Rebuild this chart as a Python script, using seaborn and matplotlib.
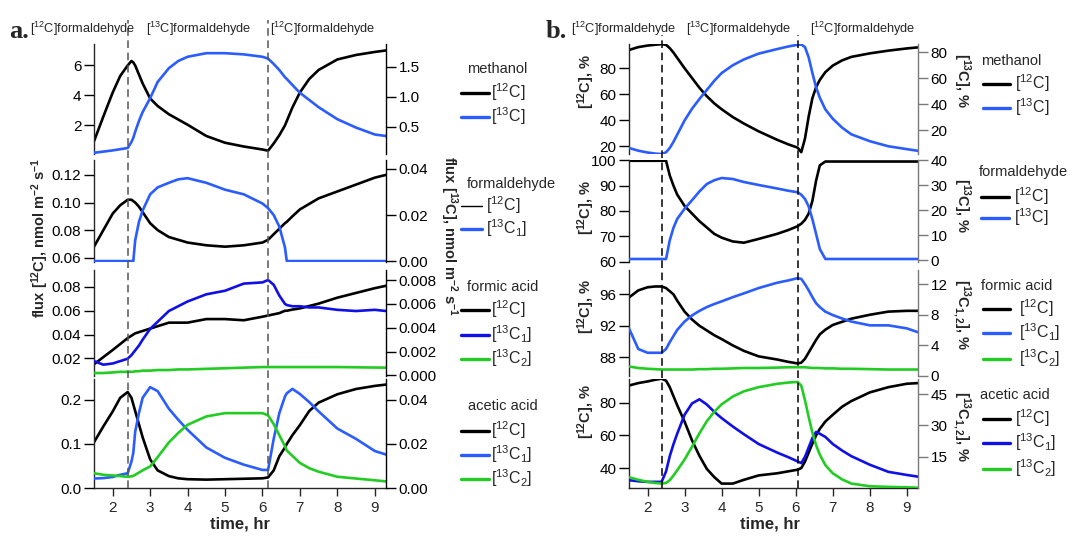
import matplotlib.pyplot as plt
import matplotlib.lines as mlines
import seaborn as sns

sns.set_theme(style="ticks")
plt.rcParams['font.family'] = ['Liberation Sans', 'DejaVu Sans']
plt.rcParams['mathtext.fontset'] = 'custom'
plt.rcParams['mathtext.rm'] = 'Liberation Sans'
plt.rcParams['mathtext.it'] = 'Liberation Sans:italic'
plt.rcParams['mathtext.bf'] = 'Liberation Sans:bold'
plt.rcParams['mathtext.default'] = 'regular'

# ---------------- data ----------------
# panel a: fluxes
t_a = [1.5, 1.75, 2.0, 2.2, 2.4, 2.5, 2.55, 2.6, 2.7, 2.8,
       3.0, 3.2, 3.5, 3.75, 4.0, 4.5, 5.0, 5.5, 6.0, 6.15,
       6.3, 6.45, 6.6, 6.65, 6.8, 7.0, 7.25, 7.5, 8.0, 8.5,
       9.0, 9.3]

meoh_a_12c = [0.95, 2.6, 4.2, 5.3, 6.0, 6.3, 6.2, 6.0, 5.4, 4.8,
              3.8, 3.3, 2.75, 2.4, 2.05, 1.3, 0.85, 0.6, 0.4, 0.32,
              0.8, 1.35, 2.0, 2.3, 3.2, 4.2, 5.1, 5.7, 6.4, 6.7,
              6.9, 7.0]
meoh_a_13c = [0.07, 0.09, 0.11, 0.13, 0.15, 0.25, 0.32, 0.42, 0.6, 0.75,
              0.98, 1.25, 1.48, 1.6, 1.67, 1.73, 1.73, 1.71, 1.67, 1.64,
              1.55, 1.45, 1.33, 1.3, 1.2, 1.07, 0.95, 0.83, 0.63, 0.49,
              0.375, 0.35]

hcho_a_12c = [0.068, 0.080, 0.092, 0.098, 0.102, 0.102, 0.101, 0.100, 0.097, 0.093,
              0.085, 0.080, 0.075, 0.073, 0.071, 0.069, 0.068, 0.069, 0.071, 0.073,
              0.077, 0.081, 0.085, 0.086, 0.090, 0.095, 0.099, 0.103, 0.108, 0.113,
              0.118, 0.120]
hcho_a_13c = [0.0, 0.0, 0.0, 0.0, 0.0, 0.0, 0.0, 0.009, 0.017, 0.022,
              0.029, 0.032, 0.034, 0.0355, 0.036, 0.034, 0.031, 0.029, 0.025, 0.023,
              0.020, 0.015, 0.006, 0.0, 0.0, 0.0, 0.0, 0.0, 0.0, 0.0,
              0.0, 0.0]

fa_a_12c = [0.015, 0.021, 0.027, 0.032, 0.037, 0.039, 0.040, 0.041, 0.042, 0.043,
            0.045, 0.047, 0.050, 0.050, 0.050, 0.053, 0.053, 0.052, 0.055, 0.056,
            0.057, 0.058, 0.060, 0.060, 0.061, 0.062, 0.064, 0.066, 0.071, 0.075,
            0.079, 0.081]
fa_a_13c1 = [0.0012, 0.0009, 0.0010, 0.0012, 0.0014, 0.0017, 0.0019, 0.0021, 0.0025, 0.0030,
             0.0039, 0.0045, 0.0054, 0.0058, 0.0062, 0.0068, 0.0071, 0.0077, 0.0078, 0.0080,
             0.0076, 0.0067, 0.0060, 0.0059, 0.0058, 0.0058, 0.0057, 0.0057, 0.0055, 0.0054,
             0.0055, 0.0054]
fa_a_13c2 = [0.0002, 0.0002, 0.00025, 0.0003, 0.0003, 0.0003, 0.0003, 0.00035, 0.00035, 0.0004,
             0.0004, 0.00045, 0.00045, 0.0005, 0.0005, 0.00055, 0.0006, 0.00065, 0.0007, 0.0007,
             0.0007, 0.0007, 0.0007, 0.0007, 0.0007, 0.0007, 0.0007, 0.0007, 0.0007, 0.00068,
             0.00066, 0.00065]

aa_a_12c = [0.104, 0.14, 0.174, 0.205, 0.218, 0.205, 0.19, 0.175, 0.145, 0.115,
            0.065, 0.04, 0.027, 0.022, 0.02, 0.019, 0.02, 0.021, 0.022, 0.024,
            0.04, 0.072, 0.092, 0.1, 0.12, 0.143, 0.175, 0.194, 0.213, 0.225,
            0.232, 0.235]
aa_a_13c1 = [0.0043, 0.0045, 0.005, 0.006, 0.0067, 0.012, 0.016, 0.0255, 0.034, 0.041,
             0.0458, 0.044, 0.036, 0.031, 0.0264, 0.0184, 0.0137, 0.0106, 0.0082, 0.0082,
             0.0223, 0.034, 0.0415, 0.043, 0.045, 0.0427, 0.039, 0.0348, 0.027, 0.0223,
             0.0168, 0.0152]
aa_a_13c2 = [0.0067, 0.006, 0.0057, 0.0054, 0.0051, 0.0053, 0.0055, 0.006, 0.007, 0.008,
             0.0098, 0.014, 0.0207, 0.025, 0.0287, 0.0325, 0.034, 0.034, 0.034, 0.033,
             0.029, 0.024, 0.019, 0.017, 0.0146, 0.0114, 0.009, 0.0074, 0.0051, 0.0043,
             0.0035, 0.003]

# panel b: isotope fractions, %
t_b = [1.5, 1.75, 2.0, 2.2, 2.38, 2.5, 2.6, 2.7, 2.8, 3.0,
       3.2, 3.4, 3.6, 3.8, 4.0, 4.3, 4.6, 5.0, 5.5, 5.8,
       6.05, 6.15, 6.25, 6.35, 6.45, 6.55, 6.65, 6.8, 7.0, 7.25,
       7.5, 8.0, 8.5, 9.0, 9.3]

meoh_b_12c = [94, 96.2, 97.4, 98, 98.5, 98, 95.4, 92, 88, 80,
              72.5, 65, 58.5, 53, 48.5, 42.5, 37.5, 31.5, 25, 21.5,
              19, 15.5, 26, 43, 57, 65.5, 71, 77, 82, 86,
              88.7, 91.4, 93.5, 95.2, 96]
meoh_b_13c = [6.3, 4.2, 2.8, 2.0, 1.6, 3.0, 6.3, 11, 16.5, 27.5,
              36.5, 44, 51, 58, 64, 70, 74.5, 79, 82.5, 84.5,
              85.8, 86.0, 84, 76, 64, 53, 45, 36, 28.8, 22,
              16.8, 11.5, 7.6, 5.4, 4.1]

hcho_b_12c = [99.8, 99.8, 99.8, 99.8, 99.8, 99.8, 94, 90, 86.5, 82,
              79, 76, 73.5, 71, 69.5, 68, 67.5, 69, 71, 72.5,
              74, 75, 76.5, 79, 84, 92, 98, 99.5, 99.5, 99.5,
              99.5, 99.5, 99.5, 99.5, 99.5]
hcho_b_13c = [0.5, 0.5, 0.5, 0.5, 0.5, 0.5, 8, 13, 16.5, 20.6,
              24, 27.5, 30.5, 32, 32.9, 32.5, 31.3, 30.1, 28.7, 27.8,
              27.2, 26.2, 24.5, 21.5, 16.4, 10.5, 4.5, 0.5, 0.5, 0.5,
              0.5, 0.5, 0.5, 0.5, 0.5]

fa_b_12c = [95.6, 96.5, 96.9, 97.0, 97.0, 96.8, 96.4, 96.0, 95.2, 93.8,
            92.8, 92.0, 91.4, 90.8, 90.3, 89.5, 88.8, 88.1, 87.7, 87.4,
            87.2, 87.3, 87.8, 88.6, 89.4, 90.2, 90.9, 91.5, 92.1, 92.5,
            92.9, 93.4, 93.8, 93.9, 93.9]
fa_b_13c1 = [6.2, 3.5, 3.0, 3.0, 3.0, 3.5, 4.4, 5.2, 6.0, 7.1,
             7.9, 8.5, 9.0, 9.4, 9.75, 10.3, 10.8, 11.5, 12.2, 12.5,
             12.8, 12.7, 12.0, 11.2, 10.3, 9.5, 9.0, 8.4, 7.95, 7.5,
             7.1, 6.6, 6.6, 6.2, 5.7]
fa_b_13c2 = [1.2, 1.0, 0.9, 0.85, 0.8, 0.8, 0.8, 0.8, 0.8, 0.8,
             0.8, 0.85, 0.85, 0.9, 0.9, 0.95, 1.0, 1.0, 1.05, 1.1,
             1.1, 1.1, 1.1, 1.05, 1.0, 1.0, 1.0, 0.95, 0.95, 0.9,
             0.9, 0.85, 0.8, 0.8, 0.8]

aa_b_12c = [90.5, 92, 93, 94, 94.7, 93.5, 89.5, 84, 78.5, 68.4,
            57, 47.5, 39.5, 34.5, 30.5, 30.5, 32.8, 35.5, 36.8, 38,
            39, 40, 44, 49.5, 55, 60, 64, 68.5, 72.6, 77.5,
            81, 86.3, 89.5, 91.6, 92]
aa_b_13c1 = [3.8, 3.3, 3.0, 3.0, 3.0, 8, 15.3, 21, 26, 35.1,
             40.5, 42.5, 40, 36.5, 33.5, 29.5, 25.8, 21.1, 17, 14.8,
             12.8, 12, 15, 19.5, 24, 26.9, 26, 24.5, 21.1, 18,
             15.3, 11.2, 7.8, 6.3, 5.5]
aa_b_13c2 = [5.2, 4.0, 3.0, 2.5, 2.2, 2.5, 3.8, 6, 8.5, 13.7,
             19.8, 26.2, 32, 36.5, 40.1, 43.8, 46.3, 48.3, 49.9, 50.5,
             50.8, 49, 42, 34, 26.5, 20.5, 16, 11, 7.1, 4.2,
             2.2, 0.9, 0.6, 0.4, 0.2]

# times of the label switches (dashed lines)
switch_a = [2.42, 6.15]
switch_b = [2.38, 6.07]
xticks = [2, 3, 4, 5, 6, 7, 8, 9]

# ---------------- styling / layout ----------------
BLACK = '#000000'
BLUE = '#2a5cff'
DBLUE = '#1010e6'
GREEN = '#22cc22'
LW = 1.9
TICK_FS = 11
LEG_FS = 10.5

W, H = 1074, 536
fig = plt.figure(figsize=(W / 100, H / 100), dpi=100)

COL_A = (94, 386)
COL_B = (629, 918)
ROWS = [(44, 154), (160, 262), (270, 376), (379, 488)]


def box(x0, x1, y0, y1):
    return [x0 / W, 1 - y1 / H, (x1 - x0) / W, (y1 - y0) / H]


def panel(col, row, t, left, right, ylim_l, ylim_r, ticks_l, ticks_r,
          fmt_l, fmt_r, rcolor):
    x0, x1 = col
    y0, y1 = ROWS[row]
    ax = fig.add_axes(box(x0, x1, y0, y1))
    axr = ax.twinx()
    for vals, c in left:
        sns.lineplot(x=t, y=vals, ax=ax, color=c, lw=LW, estimator=None,
                     sort=False, legend=False)
    for vals, c in right:
        sns.lineplot(x=t, y=vals, ax=axr, color=c, lw=LW, estimator=None,
                     sort=False, legend=False)
    for a in (ax, axr):
        a.set_xlim(1.5, 9.3)
        a.set_xlabel('')
        a.set_ylabel('')
        a.patch.set_visible(False)
        for s in a.spines.values():
            s.set_visible(False)
            s.set_linewidth(1.0)
    ax.set_ylim(*ylim_l)
    axr.set_ylim(*ylim_r)
    ax.set_yticks(ticks_l)
    ax.set_yticklabels([fmt_l % v for v in ticks_l])
    axr.set_yticks(ticks_r)
    axr.set_yticklabels([fmt_r % v for v in ticks_r])
    ax.spines['left'].set_visible(True)
    axr.spines['right'].set_visible(True)
    axr.spines['right'].set_color(rcolor)
    ax.tick_params(axis='y', direction='out', length=7, width=1,
                   labelsize=TICK_FS, pad=2, colors=BLACK)
    axr.tick_params(axis='y', direction='out', length=7, width=1,
                    labelsize=TICK_FS, pad=2, color=rcolor, labelcolor=BLACK)
    axr.tick_params(axis='x', bottom=False, labelbottom=False)
    if row == 3:
        ax.spines['bottom'].set_visible(True)
        ax.set_xticks(xticks)
        ax.set_xticklabels([str(v) for v in xticks])
        ax.tick_params(axis='x', direction='out', length=5.5, width=1,
                       labelsize=TICK_FS, pad=4)
    else:
        ax.tick_params(axis='x', bottom=False, labelbottom=False)
    return ax


# ---- panel a ----
panel(COL_A, 0, t_a, [(meoh_a_12c, BLACK)], [(meoh_a_13c, BLUE)],
      (0.1, 7.43), (0.05, 1.883), [2, 4, 6], [0.5, 1.0, 1.5], '%d', '%.1f', BLACK)
panel(COL_A, 1, t_a, [(hcho_a_12c, BLACK)], [(hcho_a_13c, BLUE)],
      (0.0569, 0.1308), (-0.0004, 0.0439), [0.06, 0.08, 0.10, 0.12],
      [0.0, 0.02, 0.04], '%.2f', '%.2f', BLACK)
panel(COL_A, 2, t_a, [(fa_a_12c, BLACK)], [(fa_a_13c1, DBLUE), (fa_a_13c2, GREEN)],
      (0.0051, 0.0943), (-0.00005, 0.00884), [0.02, 0.04, 0.06, 0.08],
      [0.0, 0.002, 0.004, 0.006, 0.008], '%.2f', '%.3f', BLACK)
panel(COL_A, 3, t_a, [(aa_a_12c, BLACK)], [(aa_a_13c1, BLUE), (aa_a_13c2, GREEN)],
      (0.0, 0.2477), (0.0, 0.0495), [0.0, 0.1, 0.2], [0.0, 0.02, 0.04],
      '%.1f', '%.2f', BLACK)

# ---- panel b ----
GREY = '#7a7a7a'
panel(COL_B, 0, t_b, [(meoh_b_12c, BLACK)], [(meoh_b_13c, BLUE)],
      (14.1, 98.6), (1.65, 86.4), [20, 40, 60, 80], [20, 40, 60, 80], '%d', '%d', GREY)
panel(COL_B, 1, t_b, [(hcho_b_12c, BLACK)], [(hcho_b_13c, BLUE)],
      (59.9, 100.1), (-0.7, 40.1), [60, 70, 80, 90, 100], [0, 10, 20, 30, 40],
      '%d', '%d', GREY)
panel(COL_B, 2, t_b, [(fa_b_12c, BLACK)], [(fa_b_13c1, BLUE), (fa_b_13c2, GREEN)],
      (85.6, 99.1), (-0.05, 13.87), [88, 92, 96], [0, 4, 8, 12], '%d', '%d', GREY)
panel(COL_B, 3, t_b, [(aa_b_12c, BLACK)], [(aa_b_13c1, DBLUE), (aa_b_13c2, GREEN)],
      (27.8, 94.5), (0.07, 52.2), [40, 60, 80], [15, 30, 45], '%d', '%d', GREY)

# dashed switch lines running through the whole column
for col, top, times, color in [(COL_A, 20, switch_a, '#555555'),
                               (COL_B, 35, switch_b, BLACK)]:
    ov = fig.add_axes(box(col[0], col[1], top, 488))
    ov.set_xlim(1.5, 9.3)
    ov.set_ylim(0, 1)
    ov.axis('off')
    for tv in times:
        ov.axvline(tv, color=color, lw=1.1, dashes=(5, 3))

# header labels
L12 = '[$^{12}$C]'
L13 = '[$^{13}$C]'
L13_1 = '[$^{13}$C$_1$]'
L13_2 = '[$^{13}$C$_2$]'


def ftext(x, y, s, **kw):
    fig.text(x / W, 1 - y / H, s, **kw)


ftext(9, 31, 'a.', fontsize=19, family='Liberation Serif', weight='bold', va='center')
ftext(546, 31, 'b.', fontsize=19, family='Liberation Serif', weight='bold', va='center')
for x, s in [(30, L12), (146, L13), (270, L12), (571, L12), (686, L13), (810, L12)]:
    ftext(x, 29, s + 'formaldehyde', fontsize=9.2, va='center')

# axis titles
ftext(40, 238, 'flux [$^{12}$C], nmol m$^{-2}$ s$^{-1}$', rotation=90,
      fontsize=10.5, weight='bold', ha='center', va='center')
ftext(449, 236, 'flux [$^{13}$C], nmol m$^{-2}$ s$^{-1}$', rotation=270,
      fontsize=10.5, weight='bold', ha='center', va='center')
for y in [82, 208, 307, 412]:
    ftext(586, y, '[$^{12}$C], %', rotation=90, fontsize=10.5, weight='bold',
          ha='center', va='center')
for y, s in [(80, '[$^{13}$C], %'), (205, '[$^{13}$C], %'),
             (315, '[$^{13}$C$_{1,2}$], %'), (427, '[$^{13}$C$_{1,2}$], %')]:
    ftext(962, y, s, rotation=270, fontsize=10.5, weight='bold',
          ha='center', va='center')
ftext(240, 524, 'time, hr', fontsize=12, weight='bold', ha='center', va='center')
ftext(770, 524, 'time, hr', fontsize=12, weight='bold', ha='center', va='center')


# legends
def legend(x_title, x_line, line_len, x_text, title, y_title, entries):
    ftext(x_title, y_title, title, fontsize=LEG_FS, va='center')
    for y, label, color, lw in entries:
        fig.add_artist(mlines.Line2D([x_line / W, (x_line + line_len) / W],
                                     [1 - (y + 1) / H] * 2, color=color, lw=lw))
        ftext(x_text, y, label, fontsize=LEG_FS + 1, va='center')


legend(467, 461, 28, 491, 'methanol', 69, [(92, L12, BLACK, 2.4), (116, L13, BLUE, 2.4)])
legend(467, 461, 21, 486, 'formaldehyde', 184, [(205, L12, BLACK, 1.0), (228, L13_1, BLUE, 2.4)])
legend(467, 461, 28, 491, 'formic acid', 287,
       [(309, L12, BLACK, 2.4), (334, L13_1, DBLUE, 2.4), (358, L13_2, GREEN, 2.4)])
legend(468, 461, 28, 491, 'acetic acid', 406,
       [(430, L12, BLACK, 2.4), (454, L13_1, BLUE, 2.4), (478, L13_2, GREEN, 2.4)])

legend(981, 983, 27, 1015, 'methanol', 61, [(83, L12, BLACK, 2.4), (107, L13, BLUE, 2.4)])
legend(979, 981, 28, 1014, 'formaldehyde', 172, [(196, L12, BLACK, 2.4), (217, L13, BLUE, 2.4)])
legend(981, 983, 27, 1019, 'formic acid', 286,
       [(308, L12, BLACK, 2.4), (332, L13_1, BLUE, 2.4), (358, L13_2, GREEN, 2.4)])
legend(980, 983, 27, 1015, 'acetic acid', 395,
       [(418, L12, BLACK, 2.4), (442, L13_1, DBLUE, 2.4), (468, L13_2, GREEN, 2.4)])

fig.savefig('out.png', dpi=100)
